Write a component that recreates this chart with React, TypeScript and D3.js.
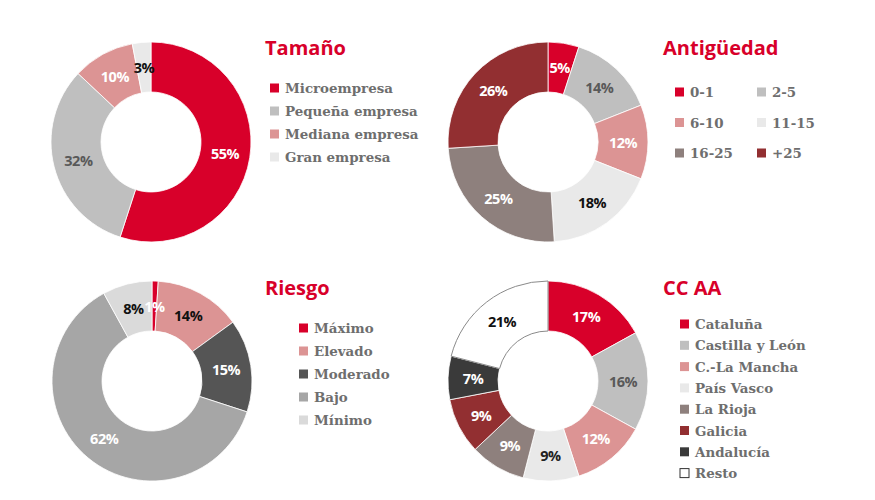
import React from "react";
import * as d3 from "d3";

const tamanoLabels = ["Microempresa", "Pequeña empresa", "Mediana empresa", "Gran empresa"];
const tamanoValues = [55, 32, 10, 3];
const tamanoColors = ["#d8002a", "#bfbfbf", "#dc9494", "#e9e9e9"];
const tamanoText = ["#ffffff", "#595959", "#ffffff", "#111111"];

const antigLabels = ["0-1", "2-5", "6-10", "11-15", "16-25", "+25"];
const antigValues = [5, 14, 12, 18, 25, 26];
const antigColors = ["#d8002a", "#bfbfbf", "#dc9494", "#e9e9e9", "#8e807d", "#922f31"];
const antigText = ["#ffffff", "#595959", "#ffffff", "#111111", "#ffffff", "#ffffff"];

const riesgoLabels = ["Máximo", "Elevado", "Moderado", "Bajo", "Mínimo"];
const riesgoValues = [1, 14, 15, 62, 8];
const riesgoColors = ["#d8002a", "#dc9494", "#555555", "#a6a6a6", "#dadada"];
const riesgoText = ["#ffffff", "#111111", "#ffffff", "#ffffff", "#111111"];

const ccaaLabels = ["Cataluña", "Castilla y León", "C.-La Mancha", "País Vasco", "La Rioja", "Galicia", "Andalucía", "Resto"];
const ccaaValues = [17, 16, 12, 9, 9, 9, 7, 21];
const ccaaColors = ["#d8002a", "#bfbfbf", "#dc9494", "#e9e9e9", "#8e807d", "#922f31", "#3a3a3a", "#ffffff"];
const ccaaText = ["#ffffff", "#595959", "#ffffff", "#222222", "#ffffff", "#ffffff", "#ffffff", "#111111"];

const RED = "#d8002a";
const LEGEND_TEXT = "#6e6e6e";

type DonutProps = {
  cx: number;
  cy: number;
  values: number[];
  colors: string[];
  textColors: string[];
  outlineIndex?: number;
};

function Donut({ cx, cy, values, colors, textColors, outlineIndex }: DonutProps) {
  const pie = d3.pie<number>().sort(null).value((d) => d);
  const arcs = pie(values);
  const arc = d3.arc<d3.PieArcDatum<number>>().innerRadius(50).outerRadius(100);
  return (
    <g transform={`translate(${cx},${cy})`}>
      {arcs.map((a, i) => (
        <path
          key={"p" + i}
          d={arc(a) || ""}
          fill={colors[i]}
          stroke={i === outlineIndex ? "#8a8a8a" : "#ffffff"}
          strokeWidth={i === outlineIndex ? 1 : 0.8}
        />
      ))}
      {arcs.map((a, i) => {
        const [x, y] = arc.centroid(a);
        return (
          <text
            key={"t" + i}
            x={x}
            y={y}
            textAnchor="middle"
            dominantBaseline="central"
            fontFamily="'Open Sans', sans-serif"
            fontWeight={700}
            fontSize={14.5}
            letterSpacing={-0.5}
            fill={textColors[i]}
          >
            {a.data}%
          </text>
        );
      })}
    </g>
  );
}

type LegendProps = {
  x: number;
  y: number;
  labels: string[];
  colors: string[];
  rowH: number;
  cols?: number;
  colW?: number;
  outlineIndex?: number;
};

function Legend({ x, y, labels, colors, rowH, cols = 1, colW = 0, outlineIndex }: LegendProps) {
  return (
    <g>
      {labels.map((l, i) => {
        const col = i % cols;
        const row = Math.floor(i / cols);
        const lx = x + col * colW;
        const ly = y + row * rowH;
        return (
          <g key={l}>
            <rect
              x={lx}
              y={ly - 4.5}
              width={9}
              height={9}
              fill={colors[i]}
              stroke={i === outlineIndex ? "#333333" : "none"}
              strokeWidth={1}
            />
            <text
              x={lx + 15}
              y={ly}
              dominantBaseline="central"
              fontFamily="'DejaVu Serif', serif"
              fontWeight={700}
              fontSize={13.4}
              fill={LEGEND_TEXT}
            >
              {l}
            </text>
          </g>
        );
      })}
    </g>
  );
}

function Title({ x, y, text }: { x: number; y: number; text: string }) {
  return (
    <text x={x} y={y} fontFamily="'Open Sans', sans-serif" fontWeight={700} fontSize={20} fill={RED}>
      {text}
    </text>
  );
}

export default function App() {
  return (
    <svg
      width={875}
      height={500}
      style={{ position: "absolute", left: 0, top: 0, background: "#ffffff" }}
    >
      <rect x={0} y={0} width={875} height={500} fill="#ffffff" />
      <Donut cx={151} cy={142} values={tamanoValues} colors={tamanoColors} textColors={tamanoText} />
      <Title x={265} y={55} text="Tamaño" />
      <Legend x={270} y={88} labels={tamanoLabels} colors={tamanoColors} rowH={23} />

      <Donut cx={548} cy={142} values={antigValues} colors={antigColors} textColors={antigText} />
      <Title x={663} y={55} text="Antigüedad" />
      <Legend x={675} y={92} labels={antigLabels} colors={antigColors} rowH={30.5} cols={2} colW={82} />

      <Donut cx={152} cy={381} values={riesgoValues} colors={riesgoColors} textColors={riesgoText} />
      <Title x={265} y={295} text="Riesgo" />
      <Legend x={299} y={328} labels={riesgoLabels} colors={riesgoColors} rowH={23} />

      <Donut cx={548} cy={381} values={ccaaValues} colors={ccaaColors} textColors={ccaaText} outlineIndex={7} />
      <Title x={663} y={295} text="CC AA" />
      <Legend x={680} y={324} labels={ccaaLabels} colors={ccaaColors} rowH={21.3} outlineIndex={7} />
    </svg>
  );
}
